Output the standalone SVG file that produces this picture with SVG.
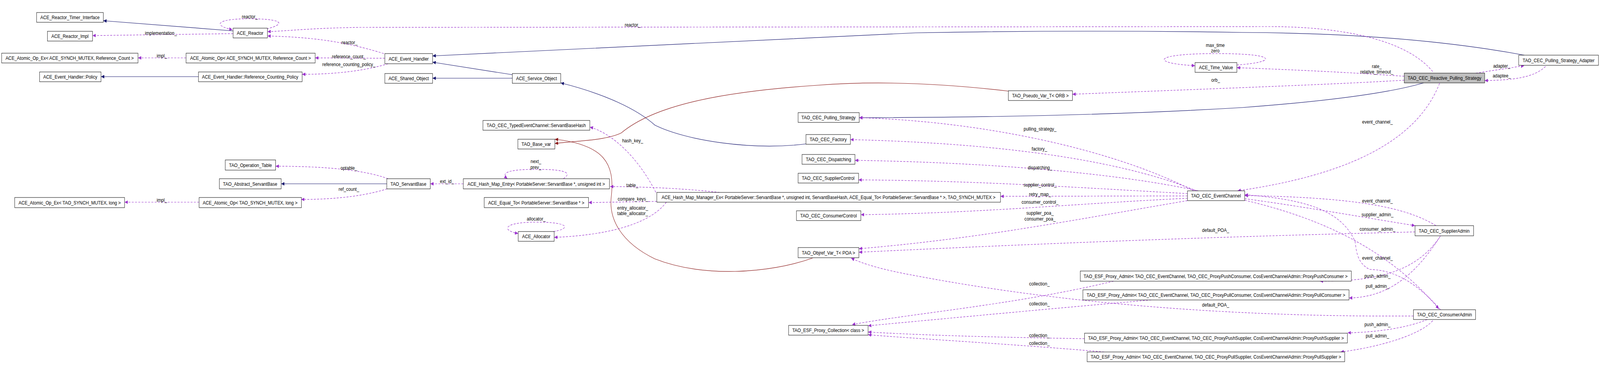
<svg xmlns="http://www.w3.org/2000/svg" width="4893" height="941" viewBox="0 0 4893 941">
<style>
text{font-family:"Liberation Sans",Arial,sans-serif;font-size:13.3px;text-anchor:middle;fill:#000}
.n rect{fill:#fff;stroke:#000;stroke-width:1}
.n.g rect{fill:#bfbfbf}
.e path{fill:none;stroke-width:1.2}
.inh{stroke:#191970}
.tpl{stroke:#8b1a1a}
.use{stroke:#9a32cd;stroke-dasharray:6,4}
</style>
<defs>
<marker id="ai" markerUnits="userSpaceOnUse" markerWidth="11" markerHeight="9" refX="10" refY="4.5" orient="auto"><path d="M0,0L10,4.5L0,9z" fill="#191970"/></marker>
<marker id="at" markerUnits="userSpaceOnUse" markerWidth="11" markerHeight="9" refX="10" refY="4.5" orient="auto"><path d="M0,0L10,4.5L0,9z" fill="#8b1a1a"/></marker>
<marker id="au" markerUnits="userSpaceOnUse" markerWidth="11" markerHeight="9" refX="10" refY="4.5" orient="auto"><path d="M0,0L10,4.5L0,9z" fill="#9a32cd"/></marker>
</defs>
<rect width="4893" height="941" fill="#fff"/>
<g transform="scale(0.837,1)">
<g id="edges" class="e">
<g marker-end="url(#ai)">
<path class="inh" d="M713,79L316,53"/>
<path class="inh" d="M607,196L309,196"/>
<path class="inh" d="M1567,191L1323,159"/>
<path class="inh" d="M1567,200L1323,200"/>
<path class="inh" d="M4662,141Q4300,85 3800,83Q3300,76 2800,84L1323,143"/>
<path class="inh" d="M4354,212Q4200,250 3800,275Q3300,300 2628,301"/>
<path class="inh" d="M2465,368C2300,385 2100,360 2003,320C1950,280 1850,240 1715,212"/>
<path class="inh" d="M1183,470L860,470"/>
</g>
<g marker-end="url(#at)">
<path class="tpl" d="M3084,233C2900,215 2700,205 2500,218C2200,235 2000,270 1900,340C1850,360 1760,360 1697,367"/>
<path class="tpl" d="M2485,660C2350,700 2150,710 2003,662C1900,620 1860,560 1870,500C1880,420 1850,370 1697,356"/>
</g>
<g marker-end="url(#au)">
<path class="use" d="M816,74C880,60 860,48 762,48C660,48 650,65 711,76"/>
<path class="use" d="M713,86L283,91"/>
<path class="use" d="M569,148L422,148"/>
<path class="use" d="M1174,137C1050,105 950,95 818,92"/>
<path class="use" d="M1177,149L964,148"/>
<path class="use" d="M1187,163C1100,185 1000,190 924,190"/>
<path class="use" d="M4382,183C4300,100 4100,68 3880,68L1100,70C950,72 900,78 818,81"/>
<path class="use" d="M3783,166C3900,160 3920,137 3720,137C3520,137 3520,162 3655,168"/>
<path class="use" d="M4295,195C4200,190 4100,183 3783,173"/>
<path class="use" d="M4295,205C4100,215 3800,224 3280,241"/>
<path class="use" d="M4403,213C4330,370 4100,450 3785,488"/>
<path class="use" d="M4514,187L4662,168"/>
<path class="use" d="M4727,170C4690,200 4620,205 4541,206"/>
<path class="use" d="M3651,488C3400,380 3000,310 2628,301"/>
<path class="use" d="M3660,488C3400,400 3000,365 2601,357"/>
<path class="use" d="M3665,488C3400,440 3000,415 2615,410"/>
<path class="use" d="M3632,495C3300,480 3000,462 2626,460"/>
<path class="use" d="M3632,501L3060,502"/>
<path class="use" d="M3632,507C3300,520 3000,545 2633,549"/>
<path class="use" d="M3632,513C3300,560 3000,610 2627,636"/>
<path class="use" d="M4328,593C4000,600 3500,610 2627,645"/>
<path class="use" d="M4323,808C4000,810 3400,800 2800,705C2700,690 2640,675 2603,660"/>
<path class="use" d="M3406,719C3100,780 2800,800 2606,830"/>
<path class="use" d="M3521,767C3200,790 2800,822 2655,833"/>
<path class="use" d="M3317,866C3000,862 2800,856 2655,849"/>
<path class="use" d="M3377,900C3100,880 2800,866 2655,856"/>
<path class="use" d="M4392,577C4300,530 4150,505 3807,500"/>
<path class="use" d="M3807,508C4000,530 4200,560 4328,577"/>
<path class="use" d="M3807,512C4050,560 4250,640 4401,790"/>
<path class="use" d="M4406,792C4330,720 4260,690 4190,689C4140,670 4150,620 4142,613C4100,540 4000,510 3807,498"/>
<path class="use" d="M4406,603C4330,700 4200,719 4037,719"/>
<path class="use" d="M4403,607C4330,700 4250,760 4126,762"/>
<path class="use" d="M4365,817C4300,840 4200,850 4122,851"/>
<path class="use" d="M4382,820C4340,860 4200,890 4100,900"/>
<path class="use" d="M1187,457C1100,430 950,425 843,425"/>
<path class="use" d="M1184,483C1100,505 1000,510 921,510"/>
<path class="use" d="M609,517L381,517"/>
<path class="use" d="M1417,470L1316,470"/>
<path class="use" d="M1723,457C1745,445 1745,433 1640,433C1540,433 1535,445 1552,457"/>
<path class="use" d="M1693,592C1745,585 1745,568 1640,568C1535,568 1535,590 1585,597"/>
<path class="use" d="M2006,492C1950,400 1870,340 1804,325"/>
<path class="use" d="M2201,492C2100,483 2000,478 1866,477"/>
<path class="use" d="M2009,515L1800,518"/>
<path class="use" d="M2038,517C2000,560 1900,600 1695,607"/>
</g>
<g id="labels">
<text x="764" y="47">reactor_</text>
<text x="492" y="89">implementation_</text>
<text x="495" y="147">impl_</text>
<text x="1069" y="113">reactor_</text>
<text x="1067" y="149">reference_count_</text>
<text x="1067" y="169">reference_counting_policy_</text>
<text x="1935" y="68">reactor_</text>
<text x="3717" y="120">max_time</text>
<text x="3717" y="134">zero</text>
<text x="4211" y="174">rate_</text>
<text x="4211" y="188">relative_timeout_</text>
<text x="3718" y="209">orb_</text>
<text x="4213" y="316">event_channel_</text>
<text x="4593" y="173">adapter_</text>
<text x="4593" y="198">adaptee_</text>
<text x="3181" y="334">pulling_strategy_</text>
<text x="3179" y="385">factory_</text>
<text x="3181" y="433">dispatching_</text>
<text x="3181" y="477">supplier_control_</text>
<text x="3181" y="501">retry_map_</text>
<text x="3181" y="521">consumer_control_</text>
<text x="3181" y="549">supplier_poa_</text>
<text x="3181" y="564">consumer_poa_</text>
<text x="3718" y="593">default_POA_</text>
<text x="3718" y="784">default_POA_</text>
<text x="3179" y="730">collection_</text>
<text x="3179" y="781">collection_</text>
<text x="3179" y="862">collection_</text>
<text x="3179" y="882">collection_</text>
<text x="4213" y="518">event_channel_</text>
<text x="4213" y="553">supplier_admin_</text>
<text x="4213" y="590">consumer_admin_</text>
<text x="4213" y="664">event_channel_</text>
<text x="4213" y="710">push_admin_</text>
<text x="4213" y="736">pull_admin_</text>
<text x="4213" y="834">push_admin_</text>
<text x="4213" y="863">pull_admin_</text>
<text x="1067" y="434">optable_</text>
<text x="1067" y="488">ref_count_</text>
<text x="495" y="516">impl_</text>
<text x="1367" y="468">ext_id_</text>
<text x="1639" y="417">next_</text>
<text x="1639" y="432">prev_</text>
<text x="1640" y="564">allocator_</text>
<text x="1935" y="364">hash_key_</text>
<text x="1934" y="478">table_</text>
<text x="1936" y="513">compare_keys_</text>
<text x="1935" y="536">entry_allocator_</text>
<text x="1935" y="550">table_allocator_</text>
</g>
</g>
<g id="n1" class="n"><rect x="112" y="32" width="204" height="25"/><text x="214" y="49">ACE_Reactor_Timer_Interface</text></g>
<g id="n2" class="n"><rect x="145" y="80" width="138" height="25"/><text x="214" y="97">ACE_Reactor_Impl</text></g>
<g id="n3" class="n"><rect x="713" y="72" width="105" height="25"/><text x="765" y="89">ACE_Reactor</text></g>
<g id="n4" class="n"><rect x="5" y="136" width="417" height="25"/><text x="213" y="153">ACE_Atomic_Op_Ex&lt; ACE_SYNCH_MUTEX, Reference_Count &gt;</text></g>
<g id="n5" class="n"><rect x="569" y="136" width="395" height="25"/><text x="766" y="153">ACE_Atomic_Op&lt; ACE_SYNCH_MUTEX, Reference_Count &gt;</text></g>
<g id="n6" class="n"><rect x="121" y="184" width="188" height="25"/><text x="215" y="201">ACE_Event_Handler::Policy</text></g>
<g id="n7" class="n"><rect x="607" y="184" width="317" height="25"/><text x="765" y="201">ACE_Event_Handler::Reference_Counting_Policy</text></g>
<g id="n8" class="n"><rect x="1177" y="137" width="146" height="26"/><text x="1250" y="155">ACE_Event_Handler</text></g>
<g id="n9" class="n"><rect x="1177" y="188" width="146" height="25"/><text x="1250" y="205">ACE_Shared_Object</text></g>
<g id="n10" class="n"><rect x="1567" y="188" width="148" height="25"/><text x="1641" y="205">ACE_Service_Object</text></g>
<g id="n11" class="n"><rect x="1477" y="308" width="327" height="25"/><text x="1640" y="325">TAO_CEC_TypedEventChannel::ServantBaseHash</text></g>
<g id="n12" class="n"><rect x="1584" y="356" width="113" height="25"/><text x="1640" y="373">TAO_Base_var</text></g>
<g id="n13" class="n"><rect x="689" y="409" width="154" height="26"/><text x="766" y="427">TAO_Operation_Table</text></g>
<g id="n14" class="n"><rect x="671" y="457" width="189" height="26"/><text x="765" y="475">TAO_Abstract_ServantBase</text></g>
<g id="n15" class="n"><rect x="1183" y="457" width="133" height="26"/><text x="1249" y="475">TAO_ServantBase</text></g>
<g id="n16" class="n"><rect x="1417" y="457" width="447" height="26"/><text x="1640" y="475">ACE_Hash_Map_Entry&lt; PortableServer::ServantBase *, unsigned int &gt;</text></g>
<g id="n17" class="n"><rect x="45" y="505" width="336" height="26"/><text x="213" y="523">ACE_Atomic_Op_Ex&lt; TAO_SYNCH_MUTEX, long &gt;</text></g>
<g id="n18" class="n"><rect x="609" y="505" width="313" height="26"/><text x="765" y="523">ACE_Atomic_Op&lt; TAO_SYNCH_MUTEX, long &gt;</text></g>
<g id="n19" class="n"><rect x="1481" y="505" width="319" height="26"/><text x="1640" y="523">ACE_Equal_To&lt; PortableServer::ServantBase * &gt;</text></g>
<g id="n20" class="n"><rect x="1585" y="592" width="110" height="25"/><text x="1640" y="609">ACE_Allocator</text></g>
<g id="n21" class="n"><rect x="2441" y="288" width="187" height="25"/><text x="2534" y="305">TAO_CEC_Pulling_Strategy</text></g>
<g id="n22" class="n"><rect x="2465" y="344" width="136" height="25"/><text x="2533" y="361">TAO_CEC_Factory</text></g>
<g id="n23" class="n"><rect x="2453" y="395" width="162" height="25"/><text x="2534" y="412">TAO_CEC_Dispatching</text></g>
<g id="n24" class="n"><rect x="2441" y="443" width="185" height="25"/><text x="2533" y="460">TAO_CEC_SupplierControl</text></g>
<g id="n25" class="n"><rect x="2009" y="492" width="1051" height="25"/><text x="2534" y="509">ACE_Hash_Map_Manager_Ex&lt; PortableServer::ServantBase *, unsigned int, ServantBaseHash, ACE_Equal_To&lt; PortableServer::ServantBase * &gt;, TAO_SYNCH_MUTEX &gt;</text></g>
<g id="n26" class="n"><rect x="2436" y="539" width="197" height="25"/><text x="2534" y="556">TAO_CEC_ConsumerControl</text></g>
<g id="n27" class="n"><rect x="2441" y="633" width="186" height="26"/><text x="2534" y="651">TAO_Objref_Var_T&lt; POA &gt;</text></g>
<g id="n28" class="n"><rect x="2412" y="832" width="243" height="25"/><text x="2533" y="849">TAO_ESF_Proxy_Collection&lt; class &gt;</text></g>
<g id="n29" class="n"><rect x="3084" y="232" width="196" height="25"/><text x="3182" y="249">TAO_Pseudo_Var_T&lt; ORB &gt;</text></g>
<g id="n30" class="n"><rect x="3655" y="160" width="128" height="25"/><text x="3719" y="177">ACE_Time_Value</text></g>
<g id="n31" class="n"><rect x="3632" y="488" width="175" height="25"/><text x="3719" y="505">TAO_CEC_EventChannel</text></g>
<g id="n32" class="n"><rect x="3304" y="693" width="829" height="26"/><text x="3718" y="711">TAO_ESF_Proxy_Admin&lt; TAO_CEC_EventChannel, TAO_CEC_ProxyPushConsumer, CosEventChannelAdmin::ProxyPushConsumer &gt;</text></g>
<g id="n33" class="n"><rect x="3312" y="741" width="814" height="26"/><text x="3719" y="759">TAO_ESF_Proxy_Admin&lt; TAO_CEC_EventChannel, TAO_CEC_ProxyPullConsumer, CosEventChannelAdmin::ProxyPullConsumer &gt;</text></g>
<g id="n34" class="n"><rect x="3317" y="852" width="804" height="25"/><text x="3719" y="869">TAO_ESF_Proxy_Admin&lt; TAO_CEC_EventChannel, TAO_CEC_ProxyPushSupplier, CosEventChannelAdmin::ProxyPushSupplier &gt;</text></g>
<g id="n35" class="n"><rect x="3325" y="900" width="788" height="25"/><text x="3719" y="917">TAO_ESF_Proxy_Admin&lt; TAO_CEC_EventChannel, TAO_CEC_ProxyPullSupplier, CosEventChannelAdmin::ProxyPullSupplier &gt;</text></g>
<g id="n36" class="n g"><rect x="4295" y="187" width="246" height="25"/><text x="4418" y="204">TAO_CEC_Reactive_Pulling_Strategy</text></g>
<g id="n37" class="n"><rect x="4645" y="141" width="244" height="26"/><text x="4767" y="159">TAO_CEC_Pulling_Strategy_Adapter</text></g>
<g id="n38" class="n"><rect x="4328" y="577" width="179" height="26"/><text x="4417" y="595">TAO_CEC_SupplierAdmin</text></g>
<g id="n39" class="n"><rect x="4323" y="792" width="190" height="25"/><text x="4418" y="809">TAO_CEC_ConsumerAdmin</text></g>
</g>
</svg>
